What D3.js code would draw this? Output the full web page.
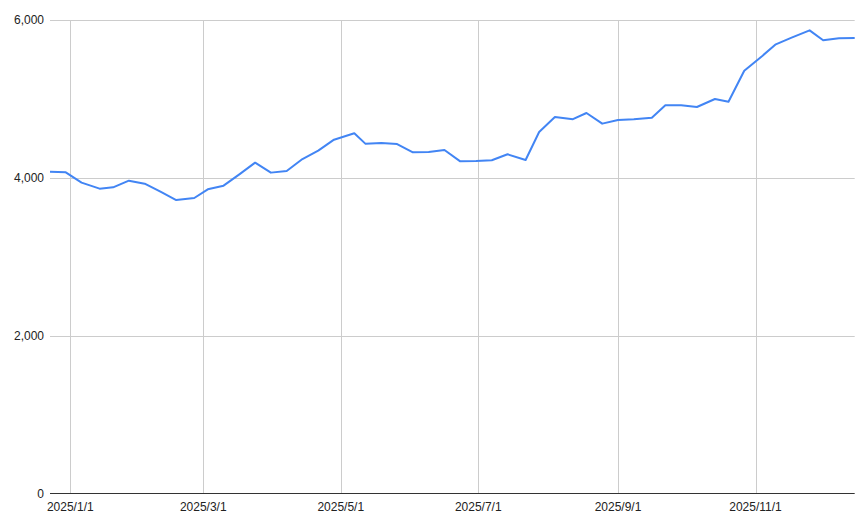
<!DOCTYPE html>
<html>
<head>
<meta charset="utf-8">
<script src="https://cdn.jsdelivr.net/npm/d3@7"></script>
<style>
  html, body { margin: 0; padding: 0; background: #fff; }
  svg { display: block; font-family: Arial, "Liberation Sans", sans-serif; }
</style>
</head>
<body>
<svg id="chart" width="868" height="526"></svg>
<script>
const dates = [
  "2024-12-23","2024-12-30","2025-01-06","2025-01-14","2025-01-20","2025-01-27",
  "2025-02-03","2025-02-10","2025-02-17","2025-02-25","2025-03-03","2025-03-10",
  "2025-03-17","2025-03-24","2025-03-31","2025-04-07","2025-04-14","2025-04-21",
  "2025-04-28","2025-05-07","2025-05-12","2025-05-19","2025-05-26","2025-06-02",
  "2025-06-09","2025-06-16","2025-06-23","2025-06-30","2025-07-07","2025-07-14",
  "2025-07-22","2025-07-28","2025-08-04","2025-08-12","2025-08-18","2025-08-25",
  "2025-09-01","2025-09-08","2025-09-16","2025-09-22","2025-09-29","2025-10-06",
  "2025-10-14","2025-10-20","2025-10-27","2025-11-04","2025-11-10","2025-11-17",
  "2025-11-25","2025-12-01","2025-12-08","2025-12-15"
];
const values = [
  4080,4072,3941,3865,3882,3966,
  3928,3827,3721,3747,3857,3903,
  4046,4194,4068,4089,4240,4346,
  4485,4566,4432,4443,4430,4325,
  4329,4354,4211,4215,4224,4300,
  4228,4582,4772,4745,4823,4688,
  4734,4743,4763,4920,4920,4899,
  5000,4966,5358,5545,5692,5776,
  5869,5743,5768,5772
];
const xTickDates = ["2025-01-01","2025-03-01","2025-05-01","2025-07-01","2025-09-01","2025-11-01"];
const yTicks = [0, 2000, 4000, 6000];

(function () {
const parse = d3.timeParse("%Y-%m-%d");
const data = dates.map((d, i) => ({ date: parse(d), value: values[i] }));

const mLeft = 50, mRight = 854.7, mTop = 20, mBottom = 494;
const svg = d3.select("#chart");

const x = d3.scaleTime()
  .domain(d3.extent(data, d => d.date))
  .range([mLeft, mRight]);
const y = d3.scaleLinear()
  .domain([0, 6000])
  .range([mBottom, mTop]);

// horizontal grid
svg.append("g")
  .selectAll("line")
  .data(yTicks.filter(v => v !== 0))
  .join("line")
  .attr("x1", mLeft).attr("x2", mRight)
  .attr("y1", d => Math.round(y(d)) + 0.5).attr("y2", d => Math.round(y(d)) + 0.5)
  .attr("stroke", "#cccccc").attr("stroke-width", 1);

// vertical grid
const xt = xTickDates.map(parse);
svg.append("g")
  .selectAll("line")
  .data(xt)
  .join("line")
  .attr("x1", d => Math.round(x(d)) + 0.5).attr("x2", d => Math.round(x(d)) + 0.5)
  .attr("y1", mTop).attr("y2", mBottom)
  .attr("stroke", "#cccccc").attr("stroke-width", 1);

// y labels
svg.append("g")
  .selectAll("text")
  .data(yTicks)
  .join("text")
  .attr("x", mLeft - 6)
  .attr("y", d => y(d))
  .attr("dy", "0.35em")
  .attr("text-anchor", "end")
  .attr("font-size", 12)
  .attr("fill", "#222")
  .text(d3.format(","));

// x labels
const fmt = d3.timeFormat("%Y/%-m/%-d");
svg.append("g")
  .selectAll("text")
  .data(xt)
  .join("text")
  .attr("x", d => x(d))
  .attr("y", mBottom + 17)
  .attr("text-anchor", "middle")
  .attr("font-size", 12)
  .attr("fill", "#222")
  .text(fmt);

// line
svg.append("path")
  .datum(data)
  .attr("fill", "none")
  .attr("stroke", "#4285f4")
  .attr("stroke-width", 2)
  .attr("stroke-linejoin", "round")
  .attr("d", d3.line().x(d => x(d.date)).y(d => y(d.value)));

// baseline
svg.append("line")
  .attr("x1", mLeft).attr("x2", mRight)
  .attr("y1", mBottom - 0.5).attr("y2", mBottom - 0.5)
  .attr("stroke", "#333333").attr("stroke-width", 1);
})();
</script>
</body>
</html>
